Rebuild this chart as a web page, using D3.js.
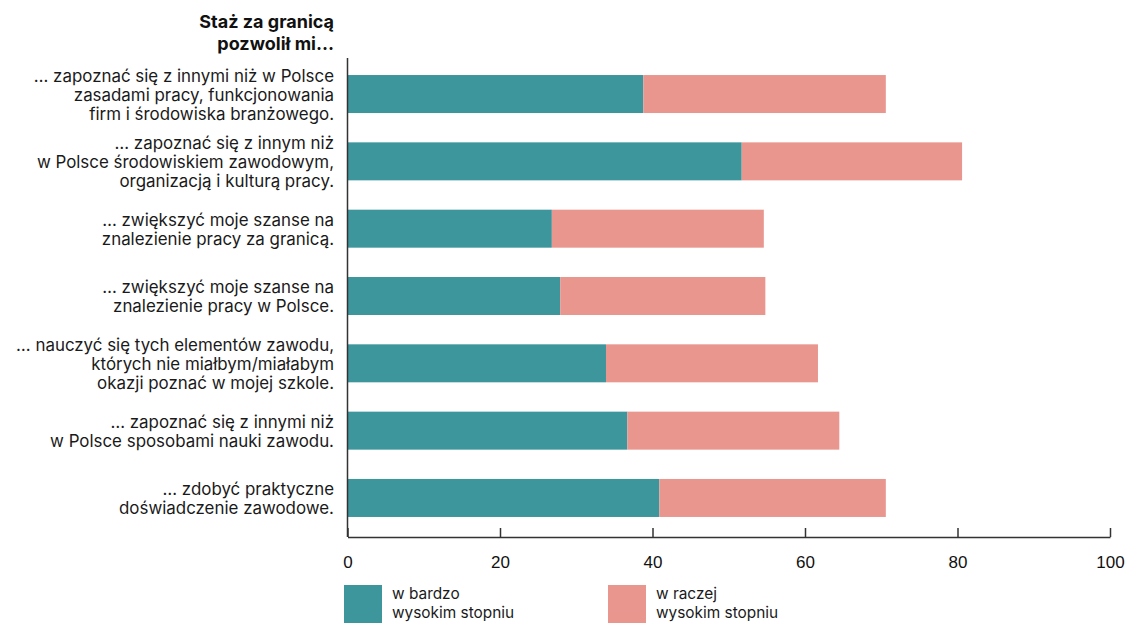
<!DOCTYPE html>
<html>
<head>
<meta charset="utf-8">
<script src="https://cdn.jsdelivr.net/npm/d3@7"></script>
<style>
  html, body { margin: 0; padding: 0; background: #fff; }
  svg { display: block; }
</style>
</head>
<body>
<svg id="chart" width="1126" height="623"></svg>
<script>
// Category labels, each split into its printed lines
const categories = [
  ["… zapoznać się z innymi niż w Polsce", "zasadami pracy, funkcjonowania", "firm i środowiska branżowego."],
  ["… zapoznać się z innym niż", "w Polsce środowiskiem zawodowym,", "organizacją i kulturą pracy."],
  ["… zwiększyć moje szanse na", "znalezienie pracy za granicą."],
  ["… zwiększyć moje szanse na", "znalezienie pracy w Polsce."],
  ["… nauczyć się tych elementów zawodu,", "których nie miałbym/miałabym", "okazji poznać w mojej szkole."],
  ["… zapoznać się z innymi niż", "w Polsce sposobami nauki zawodu."],
  ["… zdobyć praktyczne", "doświadczenie zawodowe."]
];

// Share of respondents (%)
const veryHigh = [38.8, 51.7, 26.8, 27.9, 33.9, 36.7, 40.9];
const ratherHigh = [31.8, 28.9, 27.8, 26.9, 27.8, 27.8, 29.7];

const seriesNames = [["w bardzo", "wysokim stopniu"], ["w raczej", "wysokim stopniu"]];
const xTicks = [0, 20, 40, 60, 80, 100];
const titleLines = ["Staż za granicą", "pozwolił mi…"];

const colors = ["#3e969d", "#e9968f"];
const labelFont = "Inter, 'Noto Sans', sans-serif";

const svg = d3.select("#chart");

const x = d3.scaleLinear().domain([0, 100]).range([347.5, 1110]);
const y = d3.scaleBand()
  .domain(d3.range(categories.length))
  .range([58.2, 533.8])
  .paddingInner(0.4356)
  .paddingOuter(0.25);

const rows = categories.map((c, i) => ({ i, a: veryHigh[i], b: ratherHigh[i] }));

// Stacked bars
const g = svg.append("g");
g.selectAll("rect.a").data(rows).join("rect")
  .attr("class", "a")
  .attr("x", x(0))
  .attr("y", d => y(d.i))
  .attr("width", d => x(d.a) - x(0))
  .attr("height", y.bandwidth())
  .attr("fill", colors[0]);
g.selectAll("rect.b").data(rows).join("rect")
  .attr("class", "b")
  .attr("x", d => x(d.a))
  .attr("y", d => y(d.i))
  .attr("width", d => x(d.a + d.b) - x(d.a))
  .attr("height", y.bandwidth())
  .attr("fill", colors[1]);

// Category labels
const lineH = 19;
const lab = svg.append("g");
rows.forEach(d => {
  const lines = categories[d.i];
  const cy = y(d.i) + y.bandwidth() / 2 + 1;
  const t = lab.append("text")
    .attr("text-anchor", "end")
    .attr("font-family", labelFont)
    .attr("font-size", 16.9)
    .attr("fill", "#1a1a1a");
  lines.forEach((ln, k) => {
    t.append("tspan")
      .attr("x", 334)
      .attr("y", cy + (k - (lines.length - 1) / 2) * lineH)
      .attr("dy", "0.35em")
      .text(ln);
  });
});

// Title above labels
const title = svg.append("text")
  .attr("text-anchor", "end")
  .attr("font-family", labelFont)
  .attr("font-weight", 700)
  .attr("font-size", 18)
  .attr("fill", "#111");
titleLines.forEach((ln, k) => {
  title.append("tspan").attr("x", 334).attr("y", 22 + k * 22).attr("dy", "0.35em").text(ln);
});

// Y axis line
svg.append("line")
  .attr("x1", x(0)).attr("x2", x(0))
  .attr("y1", 58).attr("y2", 537)
  .attr("stroke", "#333").attr("stroke-width", 1.5);

// X axis with upward ticks
const xAxis = svg.append("g")
  .attr("transform", "translate(0,537)")
  .call(d3.axisBottom(x).tickValues(xTicks).tickSize(-9).tickPadding(19).tickSizeOuter(0));
xAxis.select(".domain").attr("stroke", "#333").attr("stroke-width", 1.5);
xAxis.selectAll(".tick line").attr("stroke", "#333").attr("stroke-width", 1.5);
xAxis.selectAll(".tick text")
  .attr("font-family", "'Liberation Sans', Arial, sans-serif")
  .attr("font-size", 17)
  .attr("fill", "#111");

// Legend
const legX = [344, 608];
const leg = svg.append("g");
seriesNames.forEach((nm, k) => {
  leg.append("rect")
    .attr("x", legX[k]).attr("y", 585)
    .attr("width", 38).attr("height", 40)
    .attr("fill", colors[k]);
  const t = leg.append("text")
    .attr("font-family", labelFont)
    .attr("font-size", 15.4)
    .attr("fill", "#1a1a1a");
  nm.forEach((ln, j) => {
    t.append("tspan").attr("x", legX[k] + 48).attr("y", 594 + j * 19).attr("dy", "0.35em").text(ln);
  });
});
</script>
</body>
</html>
